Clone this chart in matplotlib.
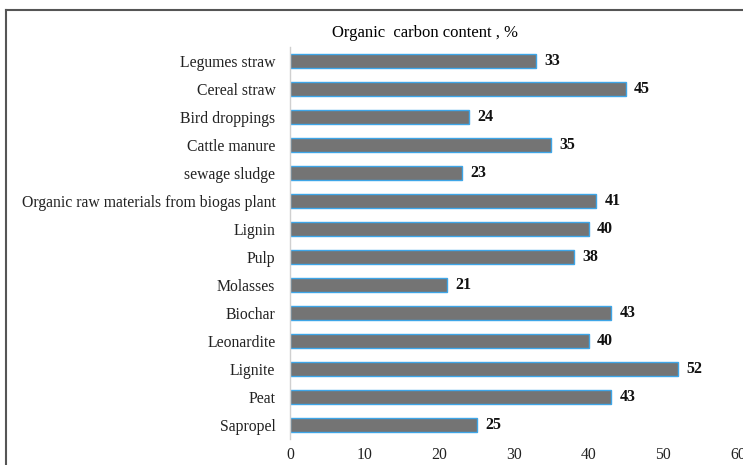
import matplotlib.pyplot as plt
from matplotlib.lines import Line2D

plt.rcParams['font.family'] = ['Liberation Serif', 'DejaVu Serif']

# Materials, top to bottom
materiales = [
    "Legumes straw", "Cereal straw", "Bird droppings", "Cattle manure",
    "sewage sludge", "Organic raw materials from biogas plant", "Lignin",
    "Pulp", "Molasses", "Biochar", "Leonardite", "Lignite", "Peat", "Sapropel",
]
carbono = [33, 45, 24, 35, 23, 41, 40, 38, 21, 43, 40, 52, 43, 25]
ticks_x = [0, 10, 20, 30, 40, 50, 60]

fig = plt.figure(figsize=(7.43, 4.65), dpi=100)
ax = fig.add_axes([290 / 743, 1 - 439 / 465, 448 / 743, 392 / 465])

pos = list(range(len(materiales)))
ax.barh(pos, carbono, height=0.53, color='#747474', edgecolor='#3ea6e8', linewidth=1.0)

for y, v in zip(pos, carbono):
    ax.text(v + 1.1, y, str(v), va='center', ha='left', fontsize=11.5, fontweight='bold', color='#111111')

ax.set_yticks(pos)
ax.set_yticklabels(materiales, fontsize=11.3)
ax.set_ylim(len(materiales) - 0.5, -0.5)
ax.set_xlim(0, 60)
ax.set_xticks(ticks_x)
ax.set_xticklabels([str(t) for t in ticks_x], fontsize=11.3)
ax.tick_params(length=0, colors='#222222')
ax.tick_params(axis='y', pad=10.5)
ax.tick_params(axis='x', pad=5.5)

for lado in ['top', 'right', 'bottom']:
    ax.spines[lado].set_visible(False)
ax.spines['left'].set_color('#d0d0d0')
ax.spines['left'].set_linewidth(1.0)

fig.text(425 / 743, 1 - 33 / 465, "Organic  carbon content , %", ha='center', va='center', fontsize=12)

# marco exterior (solo izquierda y arriba)
fig.add_artist(Line2D([6.5 / 743, 6.5 / 743], [0, 1 - 10.5 / 465], transform=fig.transFigure, color='#555555', lw=1.5))
fig.add_artist(Line2D([6.5 / 743, 1], [1 - 10.5 / 465, 1 - 10.5 / 465], transform=fig.transFigure, color='#555555', lw=1.5))

fig.savefig("out.png", dpi=100)
